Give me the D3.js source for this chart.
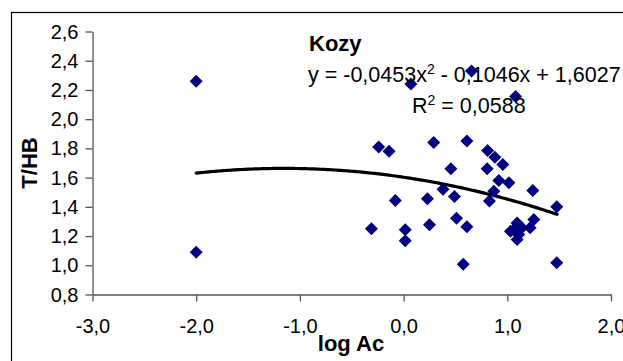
<!DOCTYPE html>
<html>
<head>
<meta charset="utf-8">
<script src="https://cdn.jsdelivr.net/npm/d3@7"></script>
<style>
body { margin: 0; background: #fff; }
svg { display: block; font-family: Arial, "Liberation Sans", sans-serif; }
</style>
</head>
<body>
<div id="chart"></div>
<script>
// data
var logAc = [-2.0, -2.0, 0.07, 0.655, 1.08,
    -0.24, -0.14, 0.29, 0.61, 0.456, 0.38, 0.49, 0.23, -0.08,
    -0.31, 0.016, 0.016, 0.25, 0.51, 0.61, 0.575,
    0.81, 0.88, 0.957, 0.806, 0.918, 1.015, 0.87, 0.828,
    1.246, 1.477, 1.477,
    1.095, 1.063, 1.11, 1.095, 1.256, 1.22, 1.03, 1.14];
var thb = [2.26, 1.09, 2.24, 2.33, 2.155,
    1.81, 1.78, 1.84, 1.85, 1.66, 1.52, 1.47, 1.455, 1.443,
    1.25, 1.243, 1.168, 1.277, 1.322, 1.263, 1.007,
    1.785, 1.74, 1.69, 1.66, 1.58, 1.565, 1.507, 1.44,
    1.512, 1.40, 1.017,
    1.29, 1.245, 1.21, 1.176, 1.313, 1.256, 1.233, 1.256];

// trendline y = a*x^2 + b*x + c, as printed on the chart
var trendCoef = [-0.0453, -0.1046, 1.6027];
var xTicks = [-3, -2, -1, 0, 1, 2];
var yTicks = [0.8, 1.0, 1.2, 1.4, 1.6, 1.8, 2.0, 2.2, 2.4, 2.6];

var W = 623, H = 361;
var fmt = function(d) { return d3.format(".1f")(d).replace(".", ",").replace("\u2212", "-"); };

var svg = d3.select("#chart").append("svg").attr("width", W).attr("height", H);

// chart frame
svg.append("rect").attr("x", 11.5).attr("y", 12.5).attr("width", 700).attr("height", 400)
    .attr("fill", "none").attr("stroke", "#000").attr("stroke-width", 1.2);

var x = d3.scaleLinear().domain([-3, 2]).range([92.5, 611]);
var y = d3.scaleLinear().domain([0.8, 2.6]).range([294.5, 31.5]);

var gx = svg.append("g").attr("transform", "translate(0,294.5)")
    .call(d3.axisBottom(x).tickValues(xTicks).tickFormat(fmt).tickSize(7).tickSizeOuter(0));
var gy = svg.append("g").attr("transform", "translate(92.5,0)")
    .call(d3.axisLeft(y).tickValues(yTicks).tickFormat(fmt).tickSize(7).tickSizeOuter(0));

[gx, gy].forEach(function(g) {
    g.select(".domain").attr("stroke", "#555").attr("stroke-width", 1.3);
    g.selectAll(".tick line").attr("stroke", "#555").attr("stroke-width", 1.3);
    g.selectAll("text").attr("fill", "#000").style("font-size", "20px").style("font-family", "Arial, 'Liberation Sans', sans-serif");
});
gx.selectAll("text").attr("y", 38.5).attr("dy", 0);
gy.selectAll("text").attr("x", -14).attr("dy", "0.33em");

// trendline
var xs = d3.range(-2, 1.481, 0.02);
var line = d3.line().x(d => x(d)).y(d => y(trendCoef[0] * d * d + trendCoef[1] * d + trendCoef[2]));
svg.append("path").datum(xs).attr("d", line).attr("fill", "none")
    .attr("stroke", "#000").attr("stroke-width", 3.2).attr("stroke-linejoin", "round").attr("stroke-linecap", "round");

// points
var diamond = "M0,-6.5L6.5,0L0,6.5L-6.5,0Z";
svg.selectAll(".pt").data(d3.range(logAc.length)).enter().append("path")
    .attr("class", "pt")
    .attr("transform", i => "translate(" + x(logAc[i]) + "," + y(thb[i]) + ")")
    .attr("d", diamond).attr("fill", "#000080");

// texts
svg.append("text").attr("x", 309).attr("y", 51).attr("font-weight", "bold").style("font-size", "22px").text("Kozy");
var eq = svg.append("text").attr("x", 308).attr("y", 82).style("font-size", "21.5px");
eq.append("tspan").text("y = -0,0453x");
eq.append("tspan").attr("dy", -8).style("font-size", "14px").text("2");
eq.append("tspan").attr("dy", 8).text(" - 0,1046x + 1,6027");
var r2 = svg.append("text").attr("x", 412).attr("y", 113).style("font-size", "21.5px");
r2.append("tspan").text("R");
r2.append("tspan").attr("dy", -8).style("font-size", "14px").text("2");
r2.append("tspan").attr("dy", 8).text(" = 0,0588");

svg.append("text").attr("x", 351).attr("y", 351).attr("text-anchor", "middle")
    .attr("font-weight", "bold").style("font-size", "22px").text("log Ac");
svg.append("text").attr("transform", "translate(37,163) rotate(-90)").attr("text-anchor", "middle")
    .attr("font-weight", "bold").style("font-size", "22px").text("T/HB");
</script>
</body>
</html>
